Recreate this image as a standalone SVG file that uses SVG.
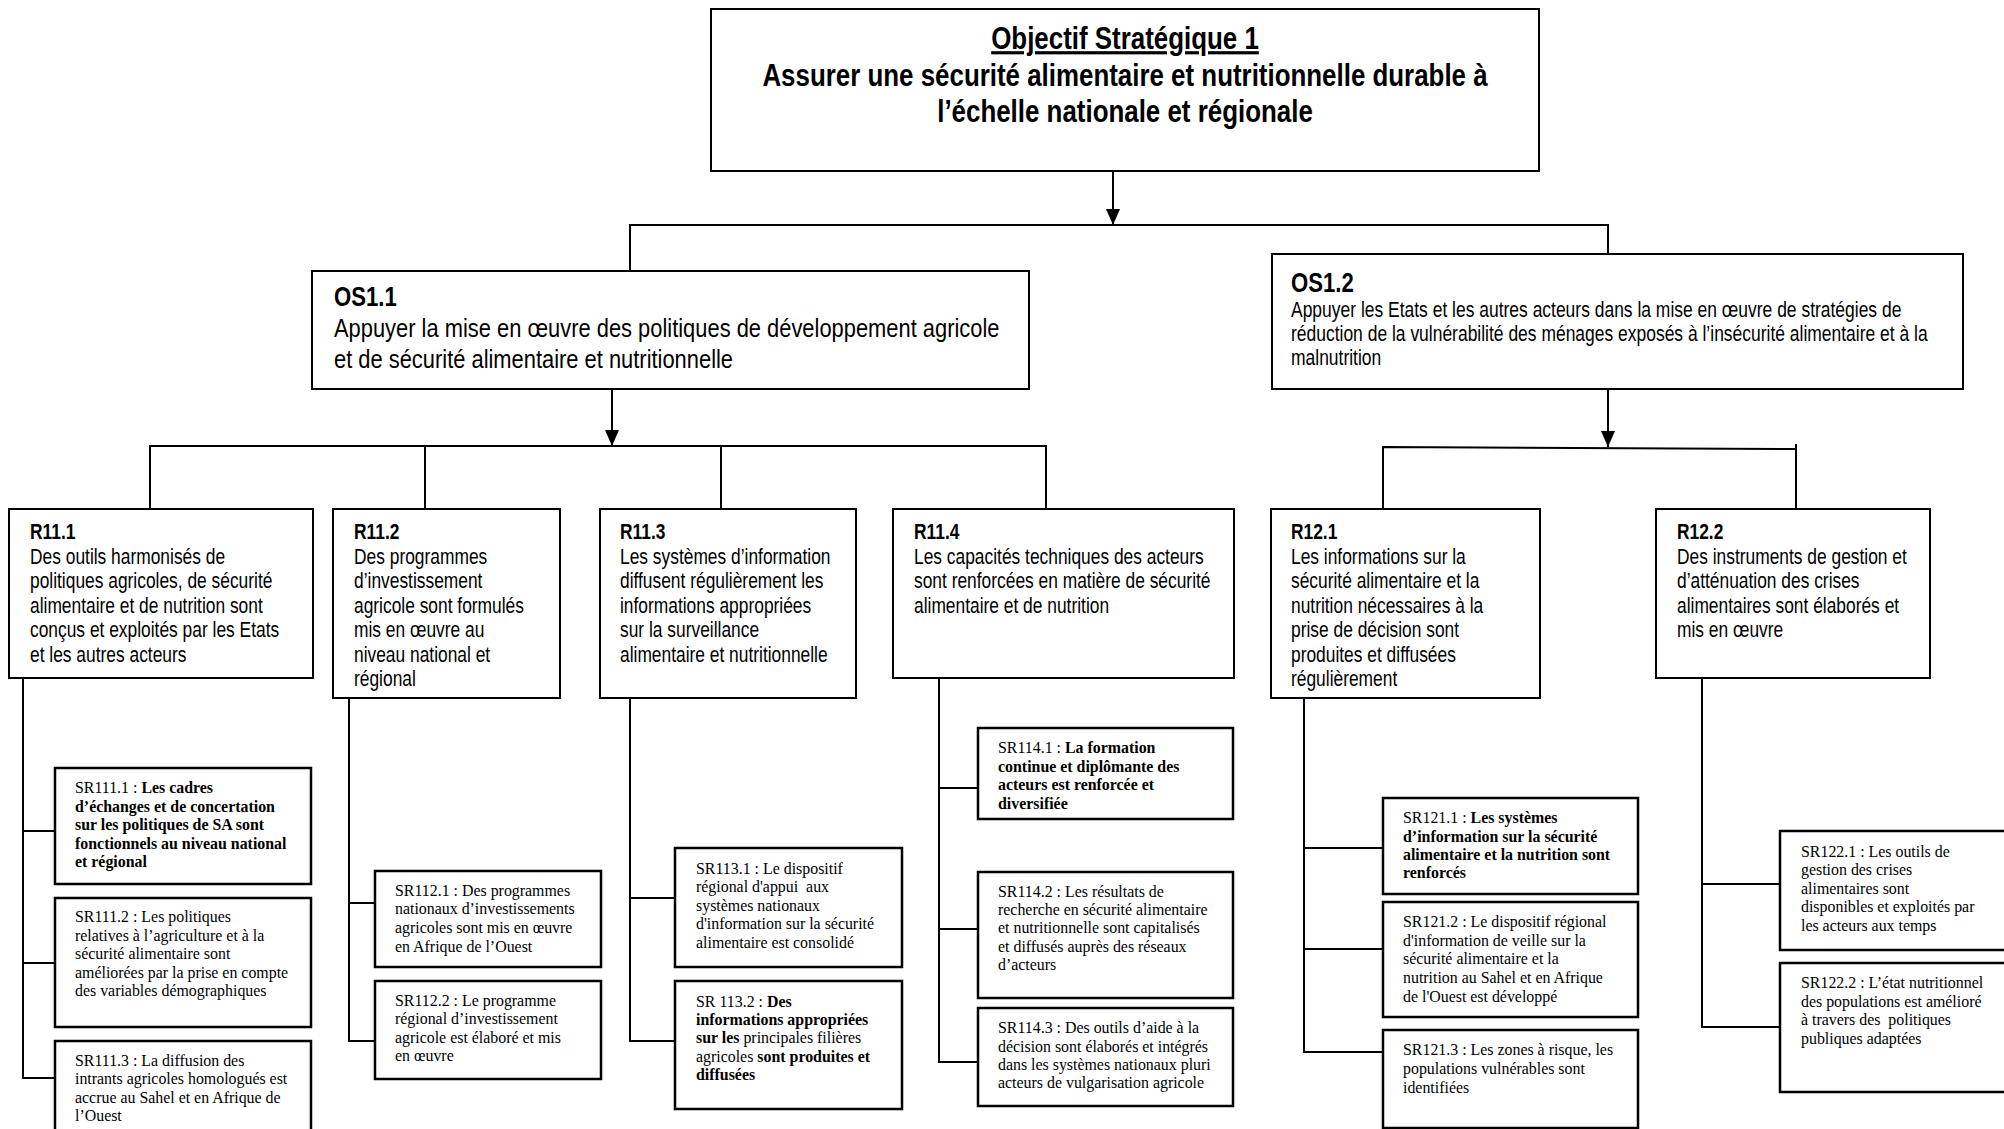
<svg xmlns="http://www.w3.org/2000/svg" width="2004" height="1129" viewBox="0 0 2004 1129">
<defs>
<marker id="arr" markerWidth="16" markerHeight="14" refX="16" refY="7" orient="auto" markerUnits="userSpaceOnUse"><path d="M0,0 L16,7 L0,14 Z" fill="#000"/></marker>
</defs>
<style>
.bx{fill:#fff;stroke:#000;stroke-width:2}
.sb{fill:#fff;stroke:#000;stroke-width:2.5}
.ln{fill:none;stroke:#000;stroke-width:2}
.n{font-family:"Liberation Sans",Arial,sans-serif;fill:#000}
.t{font-size:31.6px;font-weight:bold;text-anchor:middle}
.o1{font-size:26.7px}
.o2{font-size:21.3px}
.ol{font-size:27px;font-weight:bold}
.r{font-size:21.2px}
.rl{font-size:21.2px;font-weight:bold}
.s{font-family:"Liberation Serif","Times New Roman",serif;font-size:15.9px;fill:#000;white-space:pre}
.b{font-weight:bold}
</style>
<rect width="2004" height="1129" fill="#fff"/>
<g id="connectors">
<line class="ln" x1="1113" y1="171" x2="1113" y2="225" marker-end="url(#arr)"/>
<polyline class="ln" points="630,271 630,225 1608,225 1608,254"/>
<line class="ln" x1="612" y1="389" x2="612" y2="446" marker-end="url(#arr)"/>
<polyline class="ln" points="150,509 150,446 1046,446 1046,509"/>
<line class="ln" x1="425" y1="446" x2="425" y2="509"/>
<line class="ln" x1="721" y1="446" x2="721" y2="509"/>
<line class="ln" x1="1608" y1="389" x2="1608" y2="447" marker-end="url(#arr)"/>
<polyline class="ln" points="1383,509 1383,447 1796,449"/>
<line class="ln" x1="1796" y1="444" x2="1796" y2="509"/>
<polyline class="ln" points="23,678 23,1078 55,1078"/>
<line class="ln" x1="23" y1="831" x2="55" y2="831"/>
<line class="ln" x1="23" y1="963" x2="55" y2="963"/>
<polyline class="ln" points="349,698 349,1041 375,1041"/>
<line class="ln" x1="349" y1="903" x2="375" y2="903"/>
<polyline class="ln" points="630,698 630,1041 675,1041"/>
<line class="ln" x1="630" y1="898" x2="675" y2="898"/>
<polyline class="ln" points="939,678 939,1062 978,1062"/>
<line class="ln" x1="939" y1="788" x2="978" y2="788"/>
<line class="ln" x1="939" y1="929" x2="978" y2="929"/>
<polyline class="ln" points="1304,698 1304,1052 1383,1052"/>
<line class="ln" x1="1304" y1="848" x2="1383" y2="848"/>
<line class="ln" x1="1304" y1="949" x2="1383" y2="949"/>
<polyline class="ln" points="1702,678 1702,1027 1780,1027"/>
<line class="ln" x1="1702" y1="884" x2="1780" y2="884"/>
</g>
<g id="os1">
<rect class="bx" x="711" y="9" width="828" height="162"/>
<text class="n t" transform="translate(1125 49) scale(.82 1)" text-decoration="underline">Objectif Stratégique 1</text>
<text class="n t" transform="translate(1125 86) scale(.82 1)">Assurer une sécurité alimentaire et nutritionnelle durable à</text>
<text class="n t" transform="translate(1125 122) scale(.82 1)">l’échelle nationale et régionale</text>
</g>
<g id="os11">
<rect class="bx" x="312" y="271" width="717" height="118"/>
<text class="n ol" transform="translate(334 306) scale(.82 1)">OS1.1</text>
<text class="n o1" transform="translate(334 337) scale(.82 1)">Appuyer la mise en œuvre des politiques de développement agricole</text>
<text class="n o1" transform="translate(334 368) scale(.82 1)">et de sécurité alimentaire et nutritionnelle</text>
</g>
<g id="os12">
<rect class="bx" x="1272" y="254" width="691" height="135"/>
<text class="n ol" transform="translate(1291 292) scale(.82 1)">OS1.2</text>
<text class="n o2" transform="translate(1291 317) scale(.82 1)">Appuyer les Etats et les autres acteurs dans la mise en œuvre de stratégies de</text>
<text class="n o2" transform="translate(1291 341) scale(.82 1)">réduction de la vulnérabilité des ménages exposés à l’insécurité alimentaire et à la</text>
<text class="n o2" transform="translate(1291 365) scale(.82 1)">malnutrition</text>
</g>
<g id="r111">
<rect class="bx" x="9" y="509" width="304" height="169"/>
<text class="n rl" transform="translate(30 539) scale(.82 1)">R11.1</text>
<text class="n r" transform="translate(30 564) scale(.82 1)">Des outils harmonisés de</text>
<text class="n r" transform="translate(30 588) scale(.82 1)">politiques agricoles, de sécurité</text>
<text class="n r" transform="translate(30 613) scale(.82 1)">alimentaire et de nutrition sont</text>
<text class="n r" transform="translate(30 637) scale(.82 1)">conçus et exploités par les Etats</text>
<text class="n r" transform="translate(30 662) scale(.82 1)">et les autres acteurs</text>
</g>
<g id="r112">
<rect class="bx" x="333" y="509" width="227" height="189"/>
<text class="n rl" transform="translate(354 539) scale(.82 1)">R11.2</text>
<text class="n r" transform="translate(354 564) scale(.82 1)">Des programmes</text>
<text class="n r" transform="translate(354 588) scale(.82 1)">d’investissement</text>
<text class="n r" transform="translate(354 613) scale(.82 1)">agricole sont formulés</text>
<text class="n r" transform="translate(354 637) scale(.82 1)">mis en œuvre au</text>
<text class="n r" transform="translate(354 662) scale(.82 1)">niveau national et</text>
<text class="n r" transform="translate(354 686) scale(.82 1)">régional</text>
</g>
<g id="r113">
<rect class="bx" x="600" y="509" width="256" height="189"/>
<text class="n rl" transform="translate(620 539) scale(.82 1)">R11.3</text>
<text class="n r" transform="translate(620 564) scale(.82 1)">Les systèmes d’information</text>
<text class="n r" transform="translate(620 588) scale(.82 1)">diffusent régulièrement les</text>
<text class="n r" transform="translate(620 613) scale(.82 1)">informations appropriées</text>
<text class="n r" transform="translate(620 637) scale(.82 1)">sur la surveillance</text>
<text class="n r" transform="translate(620 662) scale(.82 1)">alimentaire et nutritionnelle</text>
</g>
<g id="r114">
<rect class="bx" x="893" y="509" width="341" height="169"/>
<text class="n rl" transform="translate(914 539) scale(.82 1)">R11.4</text>
<text class="n r" transform="translate(914 564) scale(.82 1)">Les capacités techniques des acteurs</text>
<text class="n r" transform="translate(914 588) scale(.82 1)">sont renforcées en matière de sécurité</text>
<text class="n r" transform="translate(914 613) scale(.82 1)">alimentaire et de nutrition</text>
</g>
<g id="r121">
<rect class="bx" x="1271" y="509" width="269" height="189"/>
<text class="n rl" transform="translate(1291 539) scale(.82 1)">R12.1</text>
<text class="n r" transform="translate(1291 564) scale(.82 1)">Les informations sur la</text>
<text class="n r" transform="translate(1291 588) scale(.82 1)">sécurité alimentaire et la</text>
<text class="n r" transform="translate(1291 613) scale(.82 1)">nutrition nécessaires à la</text>
<text class="n r" transform="translate(1291 637) scale(.82 1)">prise de décision sont</text>
<text class="n r" transform="translate(1291 662) scale(.82 1)">produites et diffusées</text>
<text class="n r" transform="translate(1291 686) scale(.82 1)">régulièrement</text>
</g>
<g id="r122">
<rect class="bx" x="1656" y="509" width="274" height="169"/>
<text class="n rl" transform="translate(1677 539) scale(.82 1)">R12.2</text>
<text class="n r" transform="translate(1677 564) scale(.82 1)">Des instruments de gestion et</text>
<text class="n r" transform="translate(1677 588) scale(.82 1)">d’atténuation des crises</text>
<text class="n r" transform="translate(1677 613) scale(.82 1)">alimentaires sont élaborés et</text>
<text class="n r" transform="translate(1677 637) scale(.82 1)">mis en œuvre</text>
</g>
<g id="sr1111">
<rect class="sb" x="55" y="768" width="256" height="116"/>
<text class="s" x="75" y="793">SR111.1 : <tspan class="b">Les cadres</tspan></text>
<text class="s b" x="75" y="812">d’échanges et de concertation</text>
<text class="s b" x="75" y="830">sur les politiques de SA sont</text>
<text class="s b" x="75" y="849">fonctionnels au niveau national</text>
<text class="s b" x="75" y="867">et régional</text>
</g>
<g id="sr1112">
<rect class="sb" x="55" y="898" width="256" height="129"/>
<text class="s" x="75" y="922">SR111.2 : Les politiques</text>
<text class="s" x="75" y="941">relatives à l’agriculture et à la</text>
<text class="s" x="75" y="959">sécurité alimentaire sont</text>
<text class="s" x="75" y="978">améliorées par la prise en compte</text>
<text class="s" x="75" y="996">des variables démographiques</text>
</g>
<g id="sr1113">
<rect class="sb" x="55" y="1041" width="256" height="100"/>
<text class="s" x="75" y="1066">SR111.3 : La diffusion des</text>
<text class="s" x="75" y="1084">intrants agricoles homologués est</text>
<text class="s" x="75" y="1103">accrue au Sahel et en Afrique de</text>
<text class="s" x="75" y="1121">l’Ouest</text>
</g>
<g id="sr1121">
<rect class="sb" x="375" y="871" width="226" height="96"/>
<text class="s" x="395" y="896">SR112.1 : Des programmes</text>
<text class="s" x="395" y="914">nationaux d’investissements</text>
<text class="s" x="395" y="933">agricoles sont mis en œuvre</text>
<text class="s" x="395" y="952">en Afrique de l’Ouest</text>
</g>
<g id="sr1122">
<rect class="sb" x="375" y="981" width="226" height="98"/>
<text class="s" x="395" y="1006">SR112.2 : Le programme</text>
<text class="s" x="395" y="1024">régional d’investissement</text>
<text class="s" x="395" y="1043">agricole est élaboré et mis</text>
<text class="s" x="395" y="1061">en œuvre</text>
</g>
<g id="sr1131">
<rect class="sb" x="675" y="848" width="227" height="119"/>
<text class="s" x="696" y="874">SR113.1 : Le dispositif</text>
<text class="s" x="696" y="892">régional d'appui  aux</text>
<text class="s" x="696" y="911">systèmes nationaux</text>
<text class="s" x="696" y="929">d'information sur la sécurité</text>
<text class="s" x="696" y="948">alimentaire est consolidé</text>
</g>
<g id="sr1132">
<rect class="sb" x="675" y="981" width="227" height="128"/>
<text class="s" x="696" y="1007">SR 113.2 : <tspan class="b">Des</tspan></text>
<text class="s b" x="696" y="1025">informations appropriées</text>
<text class="s" x="696" y="1043"><tspan class="b">sur les</tspan> principales filières</text>
<text class="s" x="696" y="1062">agricoles <tspan class="b">sont produites et</tspan></text>
<text class="s b" x="696" y="1080">diffusées</text>
</g>
<g id="sr1141">
<rect class="sb" x="978" y="728" width="255" height="91"/>
<text class="s" x="998" y="753">SR114.1 : <tspan class="b">La formation</tspan></text>
<text class="s b" x="998" y="772">continue et diplômante des</text>
<text class="s b" x="998" y="790">acteurs est renforcée et</text>
<text class="s b" x="998" y="809">diversifiée</text>
</g>
<g id="sr1142">
<rect class="sb" x="978" y="872" width="255" height="126"/>
<text class="s" x="998" y="897">SR114.2 : Les résultats de</text>
<text class="s" x="998" y="915">recherche en sécurité alimentaire</text>
<text class="s" x="998" y="933">et nutritionnelle sont capitalisés</text>
<text class="s" x="998" y="952">et diffusés auprès des réseaux</text>
<text class="s" x="998" y="970">d’acteurs</text>
</g>
<g id="sr1143">
<rect class="sb" x="978" y="1008" width="255" height="98"/>
<text class="s" x="998" y="1033">SR114.3 : Des outils d’aide à la</text>
<text class="s" x="998" y="1052">décision sont élaborés et intégrés</text>
<text class="s" x="998" y="1070">dans les systèmes nationaux pluri</text>
<text class="s" x="998" y="1088">acteurs de vulgarisation agricole</text>
</g>
<g id="sr1211">
<rect class="sb" x="1383" y="798" width="255" height="96"/>
<text class="s" x="1403" y="823">SR121.1 : <tspan class="b">Les systèmes</tspan></text>
<text class="s b" x="1403" y="842">d’information sur la sécurité</text>
<text class="s b" x="1403" y="860">alimentaire et la nutrition sont</text>
<text class="s b" x="1403" y="878">renforcés</text>
</g>
<g id="sr1212">
<rect class="sb" x="1383" y="902" width="255" height="115"/>
<text class="s" x="1403" y="927">SR121.2 : Le dispositif régional</text>
<text class="s" x="1403" y="946">d'information de veille sur la</text>
<text class="s" x="1403" y="964">sécurité alimentaire et la</text>
<text class="s" x="1403" y="983">nutrition au Sahel et en Afrique</text>
<text class="s" x="1403" y="1002">de l'Ouest est développé</text>
</g>
<g id="sr1213">
<rect class="sb" x="1383" y="1030" width="255" height="98"/>
<text class="s" x="1403" y="1055">SR121.3 : Les zones à risque, les</text>
<text class="s" x="1403" y="1074">populations vulnérables sont</text>
<text class="s" x="1403" y="1093">identifiées</text>
</g>
<g id="sr1221">
<rect class="sb" x="1780" y="831" width="240" height="119"/>
<text class="s" x="1801" y="857">SR122.1 : Les outils de</text>
<text class="s" x="1801" y="875">gestion des crises</text>
<text class="s" x="1801" y="894">alimentaires sont</text>
<text class="s" x="1801" y="912">disponibles et exploités par</text>
<text class="s" x="1801" y="931">les acteurs aux temps</text>
</g>
<g id="sr1222">
<rect class="sb" x="1780" y="963" width="240" height="129"/>
<text class="s" x="1801" y="988">SR122.2 : L’état nutritionnel</text>
<text class="s" x="1801" y="1007">des populations est amélioré</text>
<text class="s" x="1801" y="1025">à travers des  politiques</text>
<text class="s" x="1801" y="1044">publiques adaptées</text>
</g>
</svg>
